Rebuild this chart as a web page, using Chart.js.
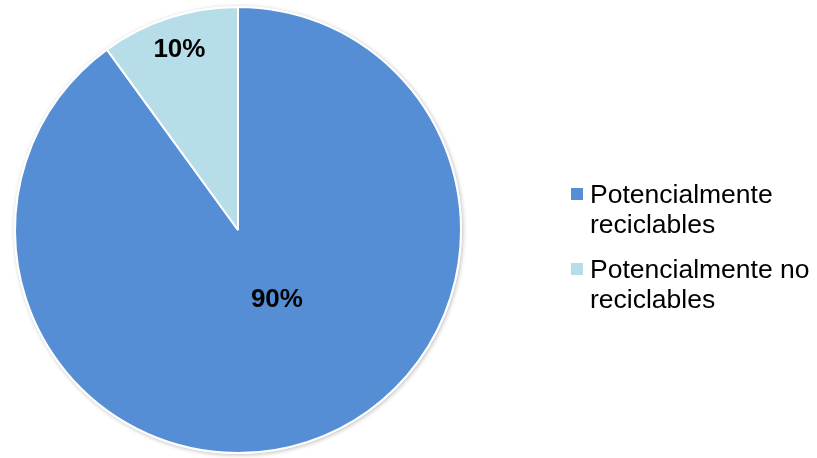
<!DOCTYPE html>
<html>
<head>
<meta charset="utf-8">
<script src="https://cdn.jsdelivr.net/npm/chart.js@4"></script>
<style>
  html, body { margin: 0; padding: 0; background: #fff; }
  #wrap { position: relative; width: 817px; height: 458px; }
  #legend { position: absolute; left: 571px; top: 179px; font-family: "Liberation Sans", Arial, sans-serif; font-size: 26.5px; line-height: 30px; color: #000; }
  .item { position: relative; padding-left: 19px; margin-bottom: 15px; white-space: nowrap; }
  .box { position: absolute; left: 0; top: 9px; width: 12px; height: 12px; }
</style>
</head>
<body>
<div id="wrap">
  <canvas id="pieChart" width="817" height="458"></canvas>
  <div id="legend"></div>
</div>
<script>
// data
const labels = ['Potencialmente reciclables', 'Potencialmente no reciclables'];
const legendLines = [['Potencialmente', 'reciclables'], ['Potencialmente no', 'reciclables']];
const values = [90, 10];
const colors = ['#558ED5', '#B7DEE8'];

// where the % labels sit: fraction of radius, shift from slice middle (deg)
const labelRadius = [0.36, 0.85];
const labelShift = [-11, 0];

const pctLabels = {
    id: 'pctLabels',
    afterDatasetsDraw(chart) {
        const ctx = chart.ctx;
        const meta = chart.getDatasetMeta(0);
        const total = values.reduce((a, b) => a + b, 0);
        ctx.save();
        ctx.font = 'bold 26px "Liberation Sans", Arial, sans-serif';
        ctx.fillStyle = '#000';
        ctx.textAlign = 'center';
        ctx.textBaseline = 'middle';
        meta.data.forEach((arc, i) => {
            const p = arc.getProps(['x', 'y', 'startAngle', 'endAngle', 'outerRadius'], true);
            const mid = (p.startAngle + p.endAngle) / 2 + labelShift[i] * Math.PI / 180;
            const r = p.outerRadius * labelRadius[i];
            const txt = Math.round(values[i] / total * 100) + '%';
            ctx.fillText(txt, p.x + Math.cos(mid) * r, p.y + Math.sin(mid) * r);
        });
        ctx.restore();
    }
};

// soft shadow round the pie edge
const pieShadow = {
    id: 'pieShadow',
    beforeDatasetsDraw(chart) {
        const arc = chart.getDatasetMeta(0).data[0];
        if (!arc) return;
        const ctx = chart.ctx;
        ctx.save();
        ctx.shadowColor = 'rgba(0,0,0,0.25)';
        ctx.shadowBlur = 4;
        ctx.shadowOffsetX = 1;
        ctx.shadowOffsetY = 1;
        ctx.fillStyle = '#ffffff';
        ctx.beginPath();
        ctx.arc(arc.x, arc.y, arc.outerRadius + 1, 0, Math.PI * 2);
        ctx.fill();
        ctx.restore();
    }
};

new Chart(document.getElementById('pieChart').getContext('2d'), {
    type: 'pie',
    data: {
        labels: labels,
        datasets: [{
            data: values,
            backgroundColor: colors,
            borderColor: '#ffffff',
            borderWidth: 2,
            hoverOffset: 0
        }]
    },
    options: {
        responsive: false,
        animation: false,
        layout: { padding: { left: 14, top: 6, right: 355, bottom: 4 } },
        plugins: {
            legend: { display: false },
            tooltip: { enabled: false }
        }
    },
    plugins: [pieShadow, pctLabels]
});

// legend with wrapped text
const legendEl = document.getElementById('legend');
legendLines.forEach((lines, i) => {
    const item = document.createElement('div');
    item.className = 'item';
    const box = document.createElement('span');
    box.className = 'box';
    box.style.background = colors[i];
    item.appendChild(box);
    item.insertAdjacentHTML('beforeend', lines.join('<br>'));
    legendEl.appendChild(item);
});
</script>
</body>
</html>
